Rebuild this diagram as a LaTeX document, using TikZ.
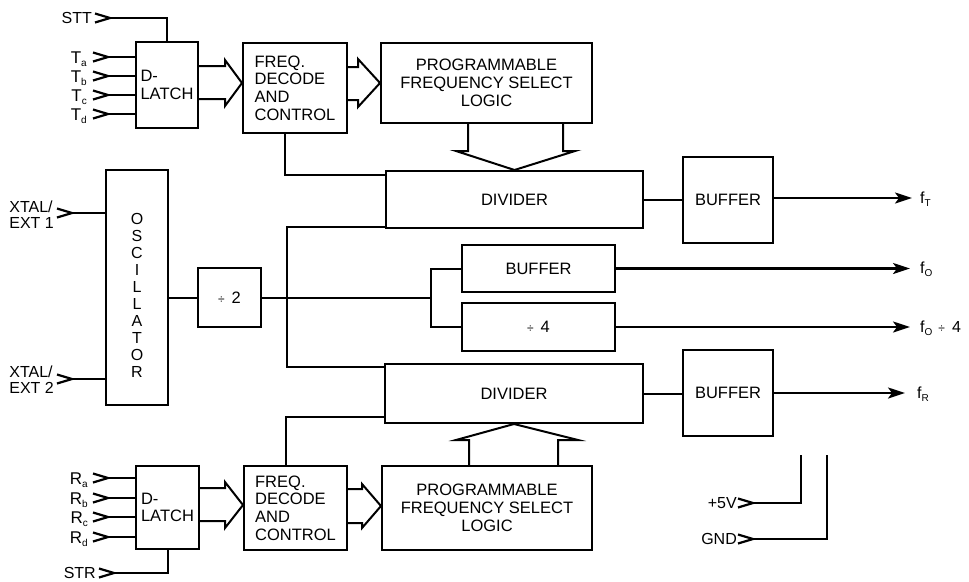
\documentclass[tikz,border=0pt]{standalone}
\usepackage{fontspec}
\setmainfont{Liberation Sans}
\usetikzlibrary{arrows.meta,calc}
% small lowered index letter (T_a, f_O ...)
\newcommand\lowsub[1]{\raisebox{-3pt}{\fontsize{10}{10}\selectfont #1}}
% reduced division sign
\newcommand\smalldiv{{\fontsize{12}{12}\selectfont ÷}}
\begin{document}
\begin{tikzpicture}[x=1pt,y=-1pt,
  wire/.style={line width=2pt},
  blk/.style={draw,line width=2pt,inner sep=0pt,align=center,
    font=\fontsize{16.5}{17.7}\selectfont},
  lbl/.style={inner sep=0pt,font=\fontsize{16}{15.5}\selectfont},
  pinlbl/.style={inner sep=0pt,font=\fontsize{17}{17}\selectfont},
  bus/.style={line width=2pt,line join=miter},
  outarrow/.style={line width=2.2pt,-{Stealth[length=17pt,width=11pt,inset=4pt]}},
  chev/.pic={\draw[line width=2.2pt] (-15,-4.5) -- (0,0) -- (-15,4.5);}
]
\useasboundingbox (0,0) rectangle (969,581);

% ---------- blocks ----------
\node[blk,align=left,minimum width=62pt,minimum height=86pt] (dlT) at (167,85) {D-\\LATCH};
\node[blk,align=left,minimum width=104pt,minimum height=90pt] (frT) at (295,88) {FREQ.\\DECODE\\AND\\CONTROL};
\node[blk,minimum width=211pt,minimum height=80pt] (pfT) at (486.5,83) {PROGRAMMABLE\\FREQUENCY SELECT\\LOGIC};
\node[blk,minimum width=257pt,minimum height=57pt] (divT) at (514.5,199.5) {DIVIDER};
\node[blk,minimum width=90pt,minimum height=86pt] (bufT) at (728,200) {BUFFER};

\node[blk,minimum width=62pt,minimum height=235pt] (osc) at (137,287.5) {};
\node[inner sep=0pt,align=center,font=\fontsize{16}{17}\selectfont] (osctxt) at (137,295.5)
  {O\\S\\C\\I\\L\\L\\A\\T\\O\\R};
\node[blk,minimum width=63pt,minimum height=59pt] (d2) at (229.5,297.5) {\smalldiv\hspace{7pt}2};
\node[blk,minimum width=153pt,minimum height=47pt] (bufM) at (538.5,268.5) {BUFFER};
\node[blk,minimum width=153pt,minimum height=48pt] (d4) at (538.5,327) {\smalldiv\hspace{7pt}4};

\node[blk,minimum width=258pt,minimum height=59pt] (divB) at (514,393.5) {DIVIDER};
\node[blk,minimum width=90pt,minimum height=86pt] (bufB) at (728,393) {BUFFER};
\node[blk,align=left,minimum width=63pt,minimum height=83pt] (dlB) at (167.5,507.5) {D-\\LATCH};
\node[blk,align=left,minimum width=103pt,minimum height=84pt] (frB) at (295.5,508) {FREQ.\\DECODE\\AND\\CONTROL};
\node[blk,minimum width=210pt,minimum height=84pt] (pfB) at (487,508) {PROGRAMMABLE\\FREQUENCY SELECT\\LOGIC};

% ---------- inputs, transmit side ----------
\node[lbl,anchor=base east] (stt) at (92,23.5) {STT};
\coordinate (sttc) at (110,18);
\pic at (sttc) {chev};
\draw[wire] (sttc) -| (dlT.north);
\foreach \s/\yy in {a/57,b/76,c/95,d/114}{
  \node[pinlbl,anchor=base east] (T\s) at (87,\yy+6) {T\lowsub{\s}};
  \coordinate (Tc\s) at (108,\yy);
  \pic at (Tc\s) {chev};
  \draw[wire] (Tc\s) -- (dlT.west |- Tc\s);
}

% ---------- inputs, receive side ----------
\foreach \s/\yy in {a/478,b/498,c/517,d/537}{
  \node[pinlbl,anchor=base east] (R\s) at (88,\yy+6) {R\lowsub{\s}};
  \coordinate (Rc\s) at (108,\yy);
  \pic at (Rc\s) {chev};
  \draw[wire] (Rc\s) -- (dlB.west |- Rc\s);
}
\node[lbl,anchor=base east] (str) at (96,578.5) {STR};
\coordinate (strc) at (114,573);
\pic at (strc) {chev};
\draw[wire] (strc) -| (dlB.south);

% ---------- crystal inputs ----------
\node[lbl,anchor=east,align=left] (x1) at (54,214.5) {XTAL/\\EXT 1};
\coordinate (x1c) at (72,213);
\pic at (x1c) {chev};
\draw[wire] (x1c) -- (osc.west |- x1c);
\node[lbl,anchor=east,align=left] (x2) at (54,379.5) {XTAL/\\EXT 2};
\coordinate (x2c) at (72,379);
\pic at (x2c) {chev};
\draw[wire] (x2c) -- (osc.west |- x2c);

% ---------- wide data paths ----------
\draw[bus] (dlT.east |- 0,66) -- (225,66) -- (225,60) -- (frT.west |- 0,83)
  -- (225,106) -- (225,99) -- (dlT.east |- 0,99);
\draw[bus] (frT.east |- 0,67) -- (358,67) -- (358,59) -- (pfT.west |- 0,83)
  -- (358,107) -- (358,100) -- (frT.east |- 0,100);
\draw[bus] (dlB.east |- 0,488) -- (225,488) -- (225,482) -- (frB.west |- 0,505)
  -- (225,528) -- (225,521) -- (dlB.east |- 0,521);
\draw[bus] (frB.east |- 0,489) -- (362,489) -- (362,484) -- (pfB.west |- 0,506)
  -- (362,528) -- (362,523) -- (frB.east |- 0,523);
\draw[bus] (pfT.south -| 468,0) -- (468,151) -- (456,151) -- (divT.north)
  -- (575,151) -- (563,151) -- (pfT.south -| 563,0);
\draw[bus] (pfB.north -| 469,0) -- (469,440) -- (456,440) -- (divB.south)
  -- (578,440) -- (558,440) -- (pfB.north -| 558,0);

% ---------- control lines to dividers ----------
\draw[wire] ($(frT.south)+(-10,0)$) |- ($(divT.north west)+(0,5)$);
\draw[wire] ($(frB.north)+(-10,0)$) |- ($(divB.south west)+(0,-7)$);

% ---------- clock distribution ----------
\draw[wire] (osc.east |- d2.west) -- (d2.west);
\coordinate (jn) at (431,297.5);
\coordinate (bus) at (287,297.5);
\draw[wire] (d2.east) -- (jn);
\draw[wire] (bufM.west) -| (jn) |- (d4.west);
\draw[wire] ($(divT.south west)+(0,-2)$) -| (bus) |- ($(divB.north west)+(0,4)$);
\draw[wire] (divT.east) -- (bufT.west |- divT.east);
\draw[wire] (divB.east) -- (bufB.west |- divB.east);

% ---------- outputs ----------
\coordinate (oT) at (912,198);
\coordinate (oO) at (910,268.5);
\coordinate (o4) at (910,327);
\coordinate (oR) at (905,393);
\draw[outarrow] (bufT.east |- oT) -- (oT);
\draw[outarrow] (bufM.east) -- (oO);
\draw[outarrow] (d4.east) -- (o4);
\draw[outarrow] (bufB.east |- oR) -- (oR);
\node[lbl,anchor=base west] (fT) at (920,203) {f\lowsub{T}};
\node[lbl,anchor=base west] (fO) at (920,273.5) {f\lowsub{O}};
\node[lbl,anchor=base west] (fO4) at (920,332) {f\lowsub{O}\hspace{6pt}\smalldiv\hspace{7pt}4};
\node[lbl,anchor=base west] (fR) at (917,398) {f\lowsub{R}};

% ---------- supply ----------
\node[lbl,anchor=base east] (p5) at (737,508.5) {+5V};
\coordinate (p5c) at (753,503);
\pic at (p5c) {chev};
\coordinate (p5t) at (801,455);
\draw[wire] (p5c) -| (p5t);
\node[lbl,anchor=base east] (gnd) at (737,544.5) {GND};
\coordinate (gc) at (753,539);
\pic at (gc) {chev};
\coordinate (gt) at (827,455);
\draw[wire] (gc) -| (gt);
\end{tikzpicture}
\end{document}
